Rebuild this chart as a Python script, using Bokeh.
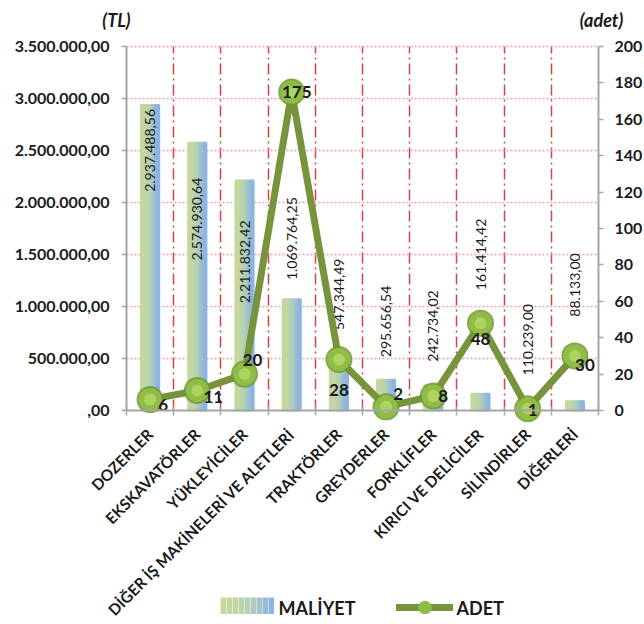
import math
from bokeh.plotting import figure
from bokeh.models import (ColumnDataSource, Range1d, LinearAxis, FixedTicker,
                          Label, Legend, LegendItem)
from bokeh.core.properties import value
from bokeh.embed import file_html
from bokeh.resources import INLINE

# ---------------- data ----------------
categories = ["DOZERLER", "EKSKAVATÖRLER", "YÜKLEYİCİLER",
              "DİĞER İŞ MAKİNELERİ VE ALETLERİ", "TRAKTÖRLER", "GREYDERLER",
              "FORKLİFLER", "KIRICI VE DELİCİLER", "SİLİNDİRLER", "DİĞERLERİ"]
maliyet = [2937488.56, 2574930.64, 2211832.42, 1069764.25, 547344.49,
           295656.54, 242734.02, 161414.42, 110239.00, 88133.00]
adet = [6, 11, 20, 175, 28, 2, 8, 48, 1, 30]

left_ticks = [0, 500000, 1000000, 1500000, 2000000, 2500000, 3000000, 3500000]
left_tick_labels = [",00", "500.000,00", "1.000.000,00", "1.500.000,00",
                    "2.000.000,00", "2.500.000,00", "3.000.000,00", "3.500.000,00"]
right_ticks = [0, 20, 40, 60, 80, 100, 120, 140, 160, 180, 200]
right_tick_labels = ["0", "20", "40", "60", "80", "100", "120", "140", "160", "180", "200"]

series_names = ["MALİYET", "ADET"]
axis_titles = ["(TL)", "(adet)"]

# ---------------- layout / style ----------------
W, H = 644, 624
PLOT_L, PLOT_R, PLOT_T, PLOT_B = 126, 598, 46, 410   # plot-area box in px
FONT = "Lato"
bar_colors = ["#c5d89d", "#c3d79f", "#c0d6a3", "#bcd4a9", "#b6d0b2",
              "#aecbbd", "#a3c3c9", "#98bbd6", "#8db4e2"]
bar_width = 0.385
# px from the bar top to the upper end of the rotated value label (+ = above)
bar_label_top = [-4, -35, -40, 102, 95, 94, 95, 175, 95, 148]
adet_label_dx = [13, 16, 8, 5, 0, 12, 10, 0, 5, 10]
adet_label_dy = [5, 7, -14, 0, 30, -13, 0, 16, 1, 9]
LINE_C = "#77933c"
AXIS_C = "#a6a6a6"
TXT_C = "#1a1a1a"


def tr_fmt(v):
    s = f"{v:,.2f}"
    return s.replace(",", "X").replace(".", ",").replace("X", ".")


idx = list(range(len(categories)))
ncat = len(categories)

# ranges extended so that the frame fills the canvas and axes sit at fixed locations
xpx = (PLOT_R - PLOT_L) / ncat
x0, x1 = -0.5 - PLOT_L / xpx, ncat - 0.5 + (W - PLOT_R) / xpx
ly0, ly1 = left_ticks[0], left_ticks[-1]
lpx = (ly1 - ly0) / (PLOT_B - PLOT_T)
ry0, ry1 = right_ticks[0], right_ticks[-1]
rpx = (ry1 - ry0) / (PLOT_B - PLOT_T)

p = figure(width=W, height=H, x_range=Range1d(x0, x1),
           y_range=Range1d(ly0 - (H - PLOT_B) * lpx, ly1 + PLOT_T * lpx),
           output_backend="svg", toolbar_location=None,
           min_border_left=0, min_border_right=0, min_border_top=0,
           min_border_bottom=0)
p.title.visible = False
p.outline_line_color = None
p.background_fill_color = "white"
p.border_fill_color = "white"
p.extra_y_ranges = {"adet": Range1d(ry0 - (H - PLOT_B) * rpx, ry1 + PLOT_T * rpx)}

# grids
p.ygrid.ticker = FixedTicker(ticks=left_ticks[1:])
p.ygrid.grid_line_color = "#e8a3a3"
p.ygrid.grid_line_dash = "2 2"
p.ygrid.grid_line_width = 1.5
p.xgrid.ticker = FixedTicker(ticks=[i + 0.5 for i in idx[:-1]])
p.xgrid.grid_line_color = "#d0454a"
p.xgrid.grid_line_dash = "11 4 2 4"
p.xgrid.grid_line_width = 1.5
try:
    p.ygrid.cross_bounds = (-0.5, ncat - 0.5)
    p.xgrid.cross_bounds = (ly0, ly1)
except Exception:
    p.xgrid.visible = False
    p.ygrid.visible = False
    p.segment(x0=-0.5, x1=ncat - 0.5, y0=left_ticks[1:], y1=left_ticks[1:],
              line_color="#e8a3a3", line_dash="2 2", line_width=1.5, level="underlay")
    p.segment(x0=[i + 0.5 for i in idx[:-1]], x1=[i + 0.5 for i in idx[:-1]],
              y0=ly0, y1=ly1, line_color="#d0454a", line_dash="11 4 2 4",
              line_width=1.5, level="underlay")

# x axis
xa = p.xaxis[0]
xa.fixed_location = 0
xa.bounds = (-0.5, ncat - 0.5)
xa.ticker = FixedTicker(ticks=idx, minor_ticks=[i - 0.5 for i in idx] + [ncat - 0.5])
xa.major_label_overrides = {i: c for i, c in zip(idx, categories)}
xa.major_label_orientation = math.pi / 4
xa.major_tick_in = 0
xa.major_tick_out = 0
xa.minor_tick_in = 4
xa.minor_tick_out = 5
xa.minor_tick_line_color = AXIS_C
xa.minor_tick_line_width = 1.5
xa.axis_line_color = AXIS_C
xa.axis_line_width = 2
xa.major_label_standoff = 16
xa.major_label_text_font = FONT
xa.major_label_text_font_style = "bold"
xa.major_label_text_font_size = "15.5px"
xa.major_label_text_color = TXT_C

# left axis
ya = p.yaxis[0]
ya.fixed_location = -0.5
ya.bounds = (ly0, ly1)
ya.ticker = FixedTicker(ticks=left_ticks)
ya.major_label_overrides = {t: l for t, l in zip(left_ticks, left_tick_labels)}
ya.axis_line_color = AXIS_C
ya.axis_line_width = 2
ya.major_tick_line_color = AXIS_C
ya.major_tick_line_width = 1.5
ya.major_tick_in = 0
ya.major_tick_out = 5
ya.minor_tick_out = 0
ya.minor_tick_in = 0
ya.major_label_standoff = 12
ya.major_label_text_font = FONT
ya.major_label_text_font_style = "bold"
ya.major_label_text_font_size = "16px"
ya.major_label_text_color = TXT_C

# right axis
ra = LinearAxis(y_range_name="adet", ticker=FixedTicker(ticks=right_ticks))
ra.fixed_location = ncat - 0.5
ra.bounds = (ry0, ry1)
ra.major_label_overrides = {t: l for t, l in zip(right_ticks, right_tick_labels)}
ra.axis_line_color = AXIS_C
ra.axis_line_width = 2
ra.major_tick_line_color = AXIS_C
ra.major_tick_line_width = 1.5
ra.major_tick_in = 0
ra.major_tick_out = 5
ra.minor_tick_out = 0
ra.minor_tick_in = 0
ra.major_label_standoff = 11
ra.major_label_text_font = FONT
ra.major_label_text_font_style = "bold"
ra.major_label_text_font_size = "16px"
ra.major_label_text_color = TXT_C
p.add_layout(ra, "right")

# bars as gradient strips
n = len(bar_colors)
sw = bar_width / n
for k, col in enumerate(bar_colors):
    off = -bar_width / 2 + sw * (k + 0.5)
    src = ColumnDataSource(dict(x=[i + off for i in idx], top=maliyet))
    p.vbar(x="x", top="top", bottom=0, width=sw, source=src,
           fill_color=col, line_color=col, line_width=2)

# bar value labels (rotated, upper end anchored)
bsrc = ColumnDataSource(dict(x=idx, y=maliyet, t=[tr_fmt(v) for v in maliyet],
                             dy=[-s for s in bar_label_top]))
p.text(x="x", y="y", text="t", y_offset="dy", source=bsrc, angle=math.pi / 2,
       text_align="right", text_baseline="middle", text_font=value(FONT),
       text_font_size="14px", text_color=TXT_C)

# line + markers
lsrc = ColumnDataSource(dict(x=idx, y=adet, t=[str(a) for a in adet],
                             dx=adet_label_dx, dy=adet_label_dy))
line_r = p.line(x="x", y="y", source=lsrc, y_range_name="adet", line_color=LINE_C,
                line_width=7, line_join="round", line_cap="round")
m1 = p.scatter(x="x", y="y", source=lsrc, y_range_name="adet", marker="circle",
               size=27, fill_color="#6f9a2e", fill_alpha=0.85, line_color=None)
m2 = p.scatter(x="x", y="y", source=lsrc, y_range_name="adet", marker="circle",
               size=23, fill_color="#8fbd45", line_color=None)
m3 = p.scatter(x="x", y="y", source=lsrc, y_range_name="adet", marker="circle",
               size=12, fill_color="#b4d966", fill_alpha=0.8, line_color=None)
p.text(x="x", y="y", text="t", x_offset="dx", y_offset="dy", source=lsrc,
       y_range_name="adet", text_align="center", text_baseline="middle",
       text_font=value(FONT), text_font_style="bold", text_font_size="17px",
       text_color=TXT_C)

# axis titles (screen units from frame bottom-left = canvas bottom-left)
for txt, xs in zip(axis_titles, [116, 601]):
    p.add_layout(Label(x=xs, y=H - 19, x_units="screen", y_units="screen", text=txt,
                       text_align="center", text_baseline="middle",
                       text_font=FONT, text_font_style="bold italic",
                       text_font_size="18px", text_color=TXT_C))

# legend: gradient swatch made of legend-only one-point line strips
swatch_renderers = [p.line(x=[0], y=[0], line_color=c, line_width=17, line_cap="butt")
                    for c in bar_colors]
items = [LegendItem(label=" ", renderers=[r]) for r in swatch_renderers]
leg1 = Legend(items=items, orientation="horizontal", location=(220, H - 614),
              spacing=0, glyph_width=6, glyph_height=17, label_standoff=0,
              label_width=0, label_height=17, padding=0, margin=0,
              border_line_color=None, background_fill_alpha=0,
              label_text_font_size="1px", label_text_alpha=0)
p.add_layout(leg1)
leg2 = Legend(items=[LegendItem(label=" ", renderers=[line_r, m2])],
              orientation="horizontal", location=(396, H - 624),
              spacing=0, glyph_width=57, glyph_height=34, label_standoff=0,
              label_width=0, label_height=34, padding=0, margin=0,
              border_line_color=None, background_fill_alpha=0,
              label_text_font_size="1px", label_text_alpha=0)
p.add_layout(leg2)
for txt, xs in zip(series_names, [278, 456]):
    p.add_layout(Label(x=xs, y=H - 607, x_units="screen", y_units="screen", text=txt,
                       text_align="left", text_baseline="middle",
                       text_font=FONT, text_font_style="bold",
                       text_font_size="18px", text_color=TXT_C))

open("out.html", "w").write(file_html(p, INLINE))
